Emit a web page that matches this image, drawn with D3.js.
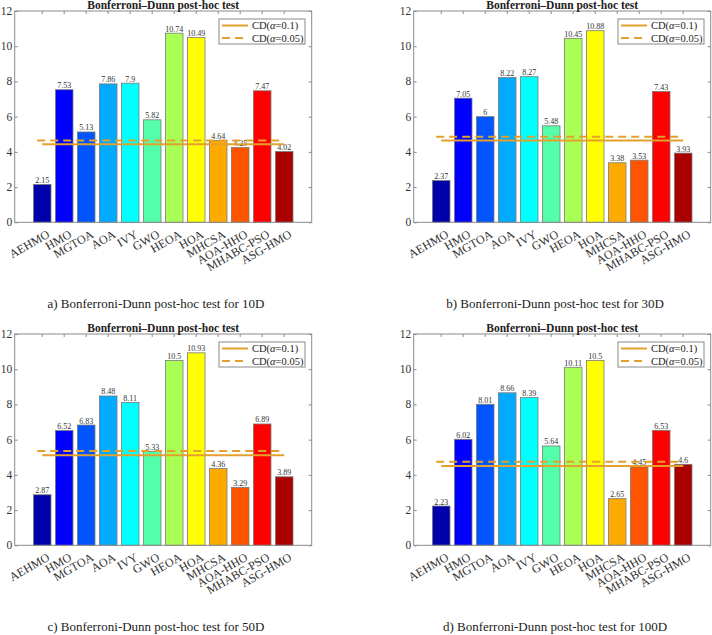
<!DOCTYPE html>
<html>
<head>
<meta charset="utf-8">
<script src="https://cdn.jsdelivr.net/npm/d3@7"></script>
<style>
  body { margin: 0; background: #fff; }
  svg { display: block; font-family: "Liberation Serif", "DejaVu Serif", serif; }
</style>
</head>
<body>
<svg width="712" height="635"></svg>
<script>
// algorithms on the x axis
const algorithms = ['AEHMO', 'HMO', 'MGTOA', 'AOA', 'IVY', 'GWO', 'HEOA', 'HOA', 'MHCSA', 'AOA-HHO', 'MHABC-PSO', 'ASG-HMO'];

// average ranks per dimension
const rank10D = [2.15, 7.53, 5.13, 7.86, 7.9, 5.82, 10.74, 10.49, 4.64, 4.25, 7.47, 4.02];
const rank30D = [2.37, 7.05, 6, 8.22, 8.27, 5.48, 10.45, 10.88, 3.38, 3.53, 7.43, 3.93];
const rank50D = [2.87, 6.52, 6.83, 8.48, 8.11, 5.33, 10.5, 10.93, 4.36, 3.29, 6.89, 3.89];
const rank100D = [2.23, 6.02, 8.01, 8.66, 8.39, 5.64, 10.11, 10.5, 2.65, 4.45, 6.53, 4.6];

// critical differences [alpha=0.1, alpha=0.05]
const cd10D = [4.43, 4.64];
const cd30D = [4.64, 4.86];
const cd50D = [5.12, 5.35];
const cd100D = [4.51, 4.74];

const yTicks = [0, 2, 4, 6, 8, 10, 12];
const legendLabels = ['0.1', '0.05'];
const captions = [
  'a) Bonferroni-Dunn post-hoc test for 10D',
  'b) Bonferroni-Dunn post-hoc test for 30D',
  'c) Bonferroni-Dunn post-hoc test for 50D',
  'd) Bonferroni-Dunn post-hoc test for 100D'
];

// jet(12) colormap
const barColors = ['#0000aa', '#0000ff', '#0055ff', '#00aaff', '#00ffff', '#55ffaa',
                   '#aaff55', '#ffff00', '#ffaa00', '#ff5500', '#ff0000', '#aa0000'];

const lineColor = '#e3a02c';
const axisColor = '#8a8a8a';

const svg = d3.select('svg');

const panels = [
  { ranks: rank10D, cd: cd10D, caption: captions[0], dx: 0, dy: 0 },
  { ranks: rank30D, cd: cd30D, caption: captions[1], dx: 399, dy: 0 },
  { ranks: rank50D, cd: cd50D, caption: captions[2], dx: 0, dy: 323 },
  { ranks: rank100D, cd: cd100D, caption: captions[3], dx: 399, dy: 323 }
];

const frame = { left: 14.7, right: 311.7, top: 11, bottom: 222.3 };

function drawPanel(p) {
  const g = svg.append('g').attr('transform', `translate(${p.dx},${p.dy})`);

  const x = d3.scaleBand()
    .domain(algorithms)
    .range([frame.left, frame.right])
    .paddingInner(0.2)
    .paddingOuter(0.85);

  const y = d3.scaleLinear()
    .domain([0, 12])
    .range([frame.bottom, frame.top]);

  // bars
  g.selectAll('.bar')
    .data(p.ranks)
    .enter().append('rect')
    .attr('class', 'bar')
    .attr('x', (d, i) => x(algorithms[i]))
    .attr('y', d => y(d))
    .attr('width', x.bandwidth())
    .attr('height', d => y(0) - y(d))
    .attr('fill', (d, i) => barColors[i])
    .attr('stroke', '#7a7a7a')
    .attr('stroke-width', 0.8);

  // value labels
  g.selectAll('.val')
    .data(p.ranks)
    .enter().append('text')
    .attr('x', (d, i) => x(algorithms[i]) + x.bandwidth() / 2)
    .attr('y', d => y(d) - 1.5)
    .attr('text-anchor', 'middle')
    .attr('font-size', 8)
    .attr('fill', '#333')
    .text(d => d);

  // CD lines
  const x0 = x(algorithms[0]) + x.bandwidth() / 2;
  const x1 = x(algorithms[algorithms.length - 1]) + x.bandwidth() / 2;
  g.append('line')
    .attr('x1', x0).attr('x2', x1)
    .attr('y1', y(p.cd[0])).attr('y2', y(p.cd[0]))
    .attr('stroke', lineColor).attr('stroke-width', 2);
  g.append('line')
    .attr('x1', x0 - 5).attr('x2', x1 - 3)
    .attr('y1', y(p.cd[1])).attr('y2', y(p.cd[1]))
    .attr('stroke', lineColor).attr('stroke-width', 2)
    .attr('stroke-dasharray', '8,5');

  // frame
  g.append('rect')
    .attr('x', frame.left).attr('y', frame.top)
    .attr('width', frame.right - frame.left)
    .attr('height', frame.bottom - frame.top)
    .attr('fill', 'none').attr('stroke', axisColor).attr('stroke-width', 1);

  // y axes, ticks inward on both sides
  const yAxisL = g.append('g')
    .attr('transform', `translate(${frame.left},0)`)
    .call(d3.axisRight(y).tickValues(yTicks).tickSize(3).tickFormat(''));
  const yAxisR = g.append('g')
    .attr('transform', `translate(${frame.right},0)`)
    .call(d3.axisLeft(y).tickValues(yTicks).tickSize(3).tickFormat(''));
  const xAxisT = g.append('g')
    .attr('transform', `translate(0,${frame.top})`)
    .call(d3.axisBottom(x).tickSize(3).tickFormat(''));
  [yAxisL, yAxisR, xAxisT].forEach(a => {
    a.select('.domain').remove();
    a.selectAll('line').attr('stroke', axisColor);
  });

  // y tick labels
  g.selectAll('.ylab')
    .data(yTicks)
    .enter().append('text')
    .attr('x', frame.left - 2.5)
    .attr('y', d => y(d))
    .attr('dy', '0.35em')
    .attr('text-anchor', 'end')
    .attr('font-size', 11.5)
    .attr('fill', '#333')
    .text(d => d);

  // x tick labels, rotated
  g.selectAll('.xlab')
    .data(algorithms)
    .enter().append('text')
    .attr('transform', d => `translate(${x(d) + x.bandwidth() / 2 + 4},${frame.bottom + 7}) rotate(-30)`)
    .attr('dy', '0.7em')
    .attr('text-anchor', 'end')
    .attr('font-size', 12)
    .attr('fill', '#333')
    .text(d => d);

  // title
  g.append('text')
    .attr('x', (frame.left + frame.right) / 2)
    .attr('y', frame.top - 2.5)
    .attr('text-anchor', 'middle')
    .attr('font-size', 11.5)
    .attr('font-weight', 'bold')
    .attr('fill', '#222')
    .text('Bonferroni\u2013Dunn post-hoc test');

  // legend
  const lg = g.append('g').attr('transform', `translate(${frame.right - 92.7},${frame.top + 8})`);
  lg.append('rect')
    .attr('width', 86).attr('height', 25)
    .attr('fill', '#fff').attr('stroke', axisColor).attr('stroke-width', 1);
  legendLabels.forEach((lab, i) => {
    const ly = 6.5 + i * 12.5;
    lg.append('line')
      .attr('x1', 3).attr('x2', 29)
      .attr('y1', ly).attr('y2', ly)
      .attr('stroke', lineColor).attr('stroke-width', 2)
      .attr('stroke-dasharray', i === 1 ? '8,5' : null);
    const t = lg.append('text')
      .attr('x', 33).attr('y', ly).attr('dy', '0.35em')
      .attr('font-size', 10.5).attr('fill', '#222');
    t.append('tspan').text('CD(');
    t.append('tspan').attr('font-style', 'italic').text('\u03b1');
    t.append('tspan').text('=' + lab + ')');
  });

  // caption
  g.append('text')
    .attr('x', 156)
    .attr('y', 308)
    .attr('text-anchor', 'middle')
    .attr('font-size', 13)
    .attr('fill', '#222')
    .text(p.caption);
}

panels.forEach(drawPanel);
</script>
</body>
</html>
